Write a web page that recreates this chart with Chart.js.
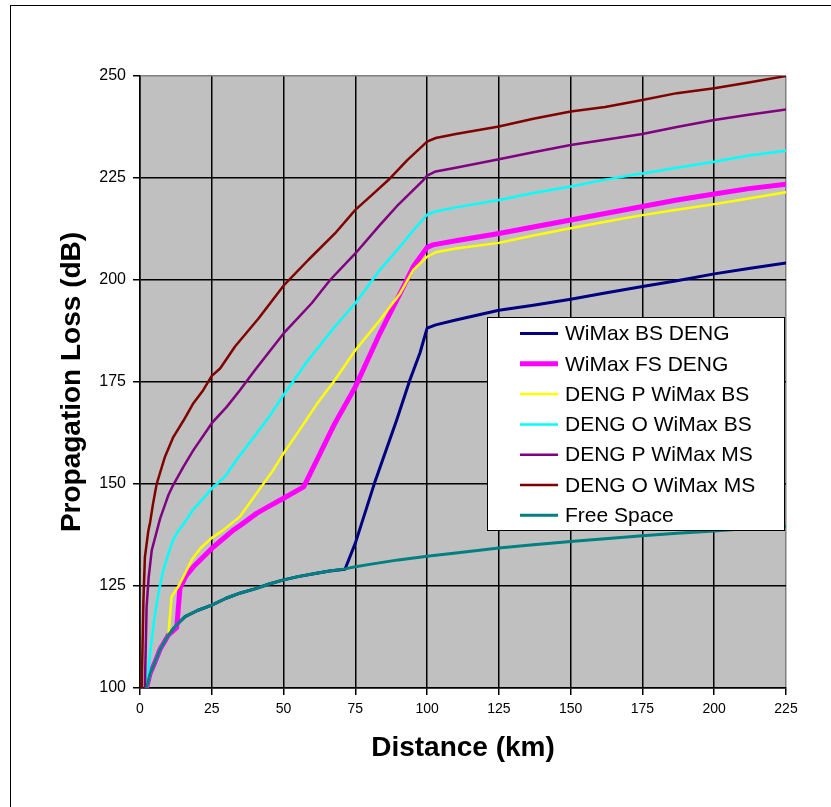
<!DOCTYPE html>
<html>
<head>
<meta charset="utf-8">
<script src="https://cdn.jsdelivr.net/npm/chart.js@4.4.1/dist/chart.umd.min.js"></script>
<style>
  html, body { margin: 0; padding: 0; background: #fff; overflow: hidden; }
  #wrap { position: relative; width: 831px; height: 807px; }
  #frame { position: absolute; left: 10px; top: 5px; width: 900px; height: 900px; border: 1px solid #000; pointer-events: none; }
  canvas { position: absolute; left: 0; top: 0; }
</style>
</head>
<body>
<div id="wrap">
  <canvas id="c" width="831" height="807"></canvas>
  <div id="frame"></div>
</div>
<script>
// ---- Data (distance in km, propagation loss in dB) ----
const seriesNames = ["WiMax BS DENG", "WiMax FS DENG", "DENG P WiMax BS", "DENG O WiMax BS", "DENG P WiMax MS", "DENG O WiMax MS", "Free Space"];

const freeSpaceKm = [2.3, 3.5, 5.2, 7, 9.9, 12.8, 15.7, 20, 25, 30, 35, 40, 45, 50, 55, 61.5, 66, 71.4, 75, 80, 90, 100, 110, 125, 137, 150, 162, 175, 187, 200, 212, 225];
const freeSpaceDb = [100, 103.5, 106.3, 109.5, 113, 115.5, 117.5, 119, 120.3, 122, 123.3, 124.3, 125.5, 126.5, 127.3, 128.1, 128.7, 129.2, 129.7, 130.3, 131.4, 132.3, 133.1, 134.3, 135.1, 135.9, 136.6, 137.3, 137.9, 138.5, 139.1, 139.6];

const bsDengKm = [2.3, 3.5, 5.2, 7, 9.9, 12.8, 15.7, 20, 25, 30, 35, 40, 45, 50, 55, 61.5, 66, 71.4, 75, 81.9, 89.4, 94, 97.5, 100, 103, 110, 125, 137, 150, 162, 175, 187, 200, 212, 225];
const bsDengDb = [100, 103.5, 106.3, 109.5, 113, 115.5, 117.5, 119, 120.3, 122, 123.3, 124.3, 125.5, 126.5, 127.3, 128.1, 128.7, 129.1, 135.5, 150.7, 165.7, 175.5, 182.1, 188.2, 189, 190.2, 192.6, 193.8, 195.3, 196.8, 198.4, 199.8, 201.5, 202.8, 204.2];

const fsDengKm = [2.3, 3.5, 5.2, 7, 9.9, 12.8, 13.9, 16, 18.6, 25, 30, 32.5, 34.8, 40.6, 44.1, 50, 57, 61, 67.9, 75, 83.6, 90.6, 95.2, 100, 102, 110, 125, 137, 150, 162, 175, 187, 200, 212, 225];
const fsDengDb = [100, 103.5, 106.3, 109.5, 113, 114.8, 124.4, 127.5, 129.7, 134.2, 137.2, 138.7, 139.8, 142.8, 144.2, 146.5, 149.3, 155, 164.9, 173.8, 187, 196.7, 203.3, 208, 208.6, 209.6, 211.4, 213, 214.7, 216.3, 218, 219.6, 221.1, 222.4, 223.5];

const pBsKm = [2.3, 3.5, 5.2, 7, 9.9, 10.5, 11, 13.3, 16, 18, 21, 25, 29, 34.8, 36, 40.6, 46.4, 50, 56.3, 62, 67.9, 75, 83.6, 90.6, 95.2, 100, 103, 110, 125, 137, 150, 162, 175, 187, 200, 212, 225];
const pBsDb = [100, 103.5, 106.3, 109.5, 113, 118, 122.4, 124.8, 128.5, 131.4, 134.2, 136.8, 138.7, 142, 143.2, 147.7, 153.4, 157.5, 164, 170, 175.5, 182.8, 190.2, 196.7, 202.5, 205.7, 206.8, 207.7, 209.1, 210.9, 212.7, 214.3, 215.9, 217.2, 218.6, 220, 221.5];

const oBsKm = [2.3, 3.5, 5, 6.4, 8, 9.9, 11.5, 13.3, 15, 18.6, 22.6, 25, 29.6, 33.4, 38, 40.6, 45, 50, 58.6, 67.9, 75, 83.6, 90.6, 95, 100, 103, 110, 125, 137, 150, 162, 175, 187, 200, 212, 225];
const oBsDb = [100, 108.5, 117, 123.2, 128.5, 133, 136.2, 138.5, 140, 143.8, 146.9, 148.9, 151.8, 155.7, 160, 162.4, 166.5, 171.8, 180.4, 188.6, 194.3, 202.5, 208.2, 212, 216, 216.8, 217.8, 219.6, 221.3, 222.9, 224.6, 226.1, 227.5, 229, 230.5, 231.7];

const pMsKm = [1.7, 2.3, 3, 4.1, 5.5, 7, 8.5, 9.9, 11.6, 15.1, 18.6, 25, 30.2, 34.8, 40, 50, 59.8, 66.2, 75, 83.6, 90, 98.7, 100, 103, 110, 125, 137, 150, 162, 175, 187, 200, 212, 225];
const pMsDb = [100, 119.9, 127, 133.8, 137.5, 141.5, 144.5, 147.3, 149.8, 154.2, 158.3, 164.9, 168.9, 173, 177.9, 186.9, 194.3, 200, 206.5, 213.5, 218.5, 224.5, 225.6, 226.6, 227.5, 229.6, 231.3, 233.1, 234.4, 235.8, 237.5, 239.2, 240.5, 241.8];

const oMsKm = [0.6, 1.2, 1.7, 2.9, 3.5, 4.5, 5.8, 8.7, 11.6, 15.1, 18.6, 22, 25, 27.9, 33.1, 41.2, 50, 58.6, 67.9, 75, 81, 86.5, 93, 100, 103, 110, 125, 137, 150, 162, 175, 187, 200, 212, 225];
const oMsDb = [100, 121.6, 132, 138.5, 140.5, 145, 150, 156.7, 161.5, 165.5, 169.8, 173, 176.5, 178.3, 183.7, 190.5, 198.6, 204.9, 211.4, 217.2, 221, 224.5, 229.3, 233.9, 234.8, 235.8, 237.6, 239.5, 241.3, 242.4, 244.1, 245.8, 247, 248.4, 250];

const xTicks = [0, 25, 50, 75, 100, 125, 150, 175, 200, 225];
const yTicks = [100, 125, 150, 175, 200, 225, 250];

const seriesColors = ["#000080", "#FF00FF", "#FFFF00", "#00FFFF", "#800080", "#800000", "#008080"];
const seriesWidths = [3, 5, 2.5, 2.5, 2.5, 2.5, 3];
const seriesOrder = [6, 5, 4, 3, 2, 1, 0];

const zip = (xs, ys) => xs.map((x, i) => ({ x: x, y: ys[i] }));
const allKm = [bsDengKm, fsDengKm, pBsKm, oBsKm, pMsKm, oMsKm, freeSpaceKm];
const allDb = [bsDengDb, fsDengDb, pBsDb, oBsDb, pMsDb, oMsDb, freeSpaceDb];

const FONT = "'Liberation Sans', Arial, Helvetica, sans-serif";
Chart.defaults.font.family = FONT;
Chart.defaults.color = "#000";

const plotBg = {
  id: 'plotBg',
  beforeDraw(chart) {
    const { ctx, chartArea: a } = chart;
    ctx.save();
    ctx.fillStyle = '#C0C0C0';
    ctx.fillRect(a.left, a.top, a.right - a.left, a.bottom - a.top);
    ctx.restore();
  }
};

const boxLegend = {
  id: 'boxLegend',
  afterDraw(chart) {
    const { ctx } = chart;
    const bx = 487, by = 317, bw = 297, bh = 213;
    ctx.save();
    ctx.fillStyle = '#fff';
    ctx.fillRect(bx, by, bw, bh);
    ctx.strokeStyle = '#000';
    ctx.lineWidth = 1;
    ctx.strokeRect(bx + 0.5, by + 0.5, bw, bh);
    ctx.font = '21px ' + FONT;
    ctx.textBaseline = 'middle';
    ctx.textAlign = 'left';
    chart.data.datasets.forEach((ds, i) => {
      const cy = by + 16.5 + i * 30.3;
      ctx.strokeStyle = ds.borderColor;
      ctx.lineWidth = ds.borderWidth;
      ctx.beginPath();
      ctx.moveTo(520, cy);
      ctx.lineTo(558, cy);
      ctx.stroke();
      ctx.fillStyle = '#000';
      ctx.fillText(ds.label, 565, cy + 1);
    });
    ctx.restore();
  }
};

new Chart(document.getElementById('c'), {
  type: 'line',
  data: {
    datasets: seriesNames.map((name, i) => ({
      label: name,
      data: zip(allKm[i], allDb[i]),
      borderColor: seriesColors[i],
      backgroundColor: seriesColors[i],
      borderWidth: seriesWidths[i],
      pointRadius: 0,
      tension: 0,
      fill: false,
      borderJoinStyle: 'round',
      borderCapStyle: 'round',
      order: seriesOrder[i]
    }))
  },
  options: {
    responsive: false,
    animation: false,
    layout: { padding: { top: 76, right: 45, left: 0, bottom: 0 } },
    plugins: { legend: { display: false }, tooltip: { enabled: false }, title: { display: false } },
    scales: {
      x: {
        type: 'linear',
        min: 0, max: 225,
        afterBuildTicks: (s) => { s.ticks = xTicks.map(v => ({ value: v })); },
        afterFit: (s) => { s.height = 119; },
        ticks: { font: { size: 14 }, padding: 6, maxRotation: 0, autoSkip: false, color: '#000' },
        grid: {
          color: (c) => (c.tick && c.tick.value === 225) ? '#808080' : '#000',
          tickColor: '#000',
          lineWidth: 1.5,
          tickLength: 7
        },
        border: { display: true, color: '#000', width: 1.5 },
        title: { display: true, text: 'Distance (km)', font: { size: 28, weight: 'bold', lineHeight: 1 }, padding: { top: 0, bottom: 45 }, color: '#000' }
      },
      y: {
        type: 'linear',
        min: 100, max: 250,
        afterBuildTicks: (s) => { s.ticks = yTicks.map(v => ({ value: v })); },
        afterFit: (s) => { s.width = 140; },
        ticks: { font: { size: 16 }, padding: 7, autoSkip: false, color: '#000' },
        grid: {
          color: (c) => (c.tick && c.tick.value === 250) ? '#808080' : '#000',
          tickColor: '#000',
          lineWidth: 1.5,
          tickLength: 7
        },
        border: { display: true, color: '#000', width: 1.5 },
        title: { display: true, text: 'Propagation Loss (dB)', font: { size: 28, weight: 'bold', lineHeight: 1 }, padding: { top: 58, bottom: 0 }, color: '#000' }
      }
    }
  },
  plugins: [plotBg, boxLegend]
});
</script>
</body>
</html>
